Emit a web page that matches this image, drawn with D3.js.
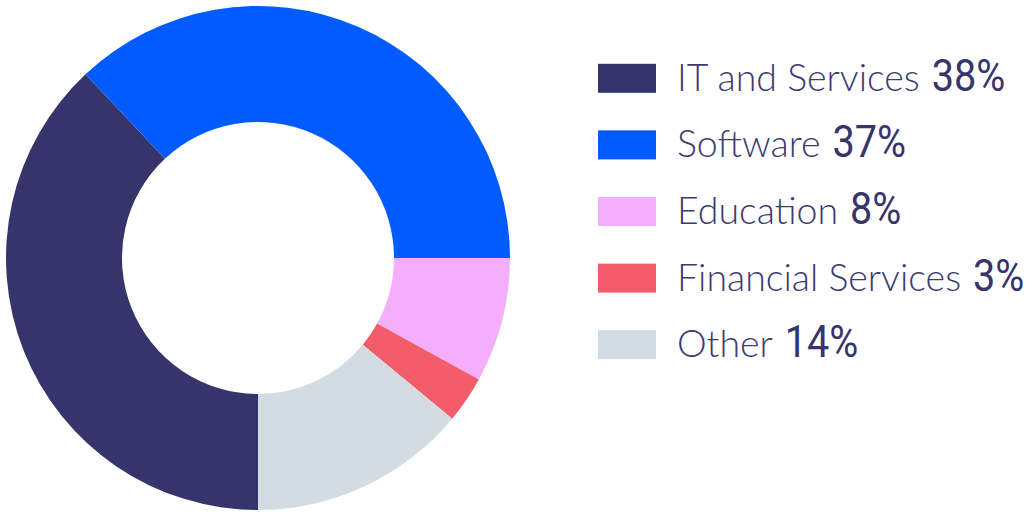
<!DOCTYPE html>
<html>
<head>
<meta charset="utf-8">
<script src="https://cdn.jsdelivr.net/npm/d3@7"></script>
<style>
  body { margin: 0; background: #fff; }
  svg { display: block; }
  .lbl { font-family: Lato, "Open Sans", sans-serif; font-weight: 300; fill: #3b3b70; }
  .pct { font-family: Roboto, "DejaVu Sans", sans-serif; font-weight: 400; fill: #35356b; }
</style>
</head>
<body>
<script>
/* values */
var categories = ["IT and Services", "Software", "Education", "Financial Services", "Other"];
var shares = [38, 37, 8, 3, 14];
var colors = ["#35356b", "#005cff", "#f5aefc", "#f25c6b", "#d4dce3"];

var W = 1033, H = 512;
var svg = d3.select("body").append("svg").attr("width", W).attr("height", H);

var data = categories.map(function(c, i){ return {name: c, value: shares[i]}; });

/* donut */
var pie = d3.pie().sort(null).value(function(d){ return d.value; })
    .startAngle(Math.PI).endAngle(3 * Math.PI);
var arc = d3.arc().innerRadius(136).outerRadius(252);
var color = d3.scaleOrdinal().domain(categories).range(colors);

svg.append("g")
    .attr("transform", "translate(258,258)")
  .selectAll("path")
    .data(pie(data))
  .join("path")
    .attr("d", arc)
    .attr("fill", function(d){ return color(d.data.name); });

/* legend */
var y = d3.scaleBand().domain(categories).range([45, 378]);
var leg = svg.append("g").selectAll("g")
    .data(data)
  .join("g")
    .attr("transform", function(d){ return "translate(598," + (y(d.name) + y.bandwidth() / 2) + ")"; });

leg.append("rect")
    .attr("x", 0).attr("y", -14.5)
    .attr("width", 58).attr("height", 29)
    .attr("fill", function(d){ return color(d.name); });

leg.append("text")
    .attr("class", "lbl")
    .attr("x", 79).attr("y", 12.5)
    .style("font-size", "37.5px")
    .text(function(d){ return d.name; });

// numbers are a narrow face in the original: squeeze Roboto a bit
leg.each(function(d){
    var g = d3.select(this);
    var w = g.select("text.lbl").node().getComputedTextLength();
    var t = g.append("text")
        .attr("class", "pct")
        .attr("x", 79 + w + 12).attr("y", 12.5)
        .style("font-size", "45px")
        .text(d.value + "%");
    var nw = t.node().getComputedTextLength();
    t.attr("textLength", nw * 0.88).attr("lengthAdjust", "spacingAndGlyphs");
});
</script>
</body>
</html>
